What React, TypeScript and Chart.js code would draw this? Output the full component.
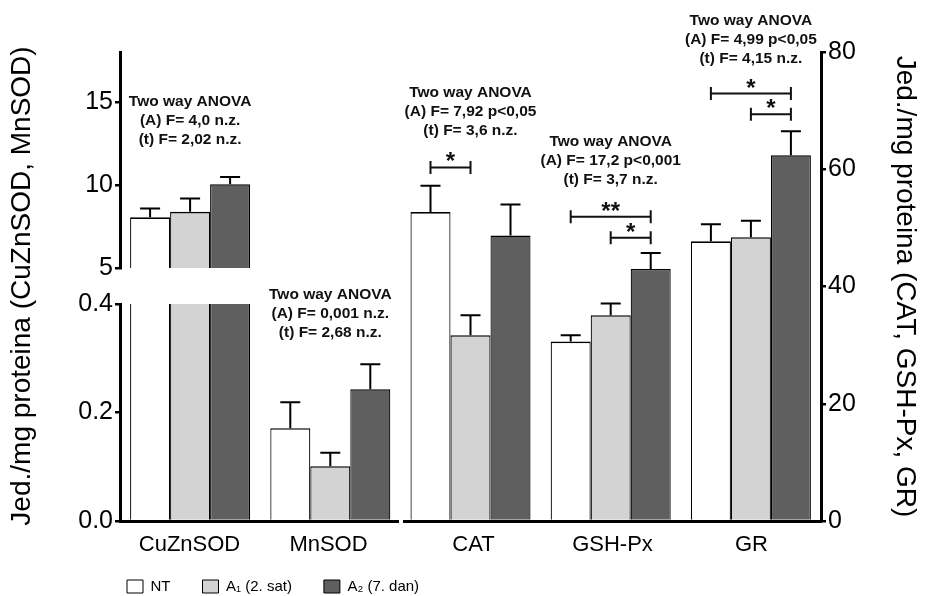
import React, { useEffect, useRef } from 'react';
import { Chart, registerables } from 'chart.js';

Chart.register(...registerables);

// ---------------- data ----------------
const categories = ['CuZnSOD', 'MnSOD', 'CAT', 'GSH-Px', 'GR'];
const leftCategories = categories.slice(0, 2);
const rightCategories = categories.slice(2);

const seriesLabels = ['NT', 'A\u2081 (2. sat)', 'A\u2082 (7. dan)'];
const ntValues = [8.05, 0.171, 52.7, 30.6, 47.7];
const a1Values = [8.38, 0.101, 31.7, 35.1, 48.4];
const a2Values = [10.04, 0.243, 48.7, 43.0, 62.4];
const ntErrors = [0.53, 0.048, 4.5, 1.1, 2.9];
const a1Errors = [0.8, 0.025, 3.4, 2.0, 2.8];
const a2Errors = [0.44, 0.046, 5.3, 2.7, 4.1];

const leftHighRange = [5, 18];
const leftLowRange = [0, 0.4];
const rightRange = [0, 80];
const leftHighTicks = [5, 10, 15];
const leftLowTicks = [0, 0.2, 0.4];
const rightTicks = [0, 20, 40, 60, 80];

const leftTitle = 'Jed./mg proteina (CuZnSOD, MnSOD)';
const rightTitle = 'Jed./mg proteina (CAT, GSH-Px, GR)';

const anovaTitle = 'Two way ANOVA';
const anovaA = ['(A) F= 4,0 n.z.', '(A) F= 0,001 n.z.', '(A) F= 7,92 p<0,05', '(A) F= 17,2 p<0,001', '(A) F= 4,99 p<0,05'];
const anovaT = ['(t) F= 2,02 n.z.', '(t) F= 2,68 n.z.', '(t) F= 3,6 n.z.', '(t) F= 3,7 n.z.', '(t) F= 4,15 n.z.'];
const anovaLevel = [15.0, 0.417, 73.1, 64.75, 85.4];

const sigCategory = ['CAT', 'GSH-Px', 'GSH-Px', 'GR', 'GR'];
const sigFrom = [0, 0, 1, 0, 1];
const sigTo = [1, 2, 2, 2, 2];
const sigLevel = [60.3, 51.9, 48.3, 72.9, 69.4];
const sigMark = ['*', '**', '*', '*', '*'];

// value axis used by each category (CuZnSOD: upper left segment, MnSOD: lower left, rest: right)
const categoryAxis = ['yH', 'yLo', 'yR', 'yR', 'yR'];

// ---------------- styles ----------------
const FONT = '"Liberation Sans", Arial, Helvetica, sans-serif';
const fills = ['#ffffff', '#d3d3d3', '#5f5f5f'];
const stackNames = ['NT', 'A1', 'A2'];
const barBorder = { top: 1.6, left: 1.2, right: 1.2, bottom: 0 };

Chart.defaults.font.family = FONT;
Chart.defaults.color = '#000';

const errorBarPlugin = {
  id: 'errorBars',
  afterDatasetsDraw(chart: any) {
    const ctx = chart.ctx;
    ctx.save();
    ctx.strokeStyle = '#000';
    ctx.lineWidth = 2;
    chart.data.datasets.forEach((ds: any, di: number) => {
      if (!ds.errors) return;
      const meta = chart.getDatasetMeta(di);
      const ys = chart.scales[meta.yAxisID];
      ds.errors.forEach((e: number | null, i: number) => {
        const v = ds.data[i];
        if (e == null || v == null) return;
        const x = meta.data[i].x;
        const y0 = ys.getPixelForValue(v);
        const y1 = ys.getPixelForValue(v + e);
        ctx.beginPath();
        ctx.moveTo(x, y0);
        ctx.lineTo(x, y1);
        ctx.moveTo(x - 10, y1);
        ctx.lineTo(x + 10, y1);
        ctx.stroke();
      });
    });
    ctx.restore();
  },
};

const notesPlugin = {
  id: 'notes',
  afterDatasetsDraw(chart: any) {
    const ctx = chart.ctx;
    const xs = chart.scales.x;
    ctx.save();
    ctx.fillStyle = '#111';
    ctx.textAlign = 'center';
    ctx.textBaseline = 'middle';
    ctx.font = 'bold 15.5px ' + FONT;
    categories.forEach((cat, c) => {
      const ys = chart.scales[categoryAxis[c]];
      const x = xs.getPixelForValue(c);
      const y = ys.getPixelForValue(anovaLevel[c]);
      [anovaTitle, anovaA[c], anovaT[c]].forEach((t, k) => ctx.fillText(t, x, y + k * 19));
    });

    const firstRight = chart.data.datasets.findIndex((d: any) => d.showInLegend);
    const yR = chart.scales.yR;
    ctx.strokeStyle = '#111';
    ctx.lineWidth = 2;
    ctx.font = 'bold 24px ' + FONT;
    ctx.textBaseline = 'alphabetic';
    sigCategory.forEach((cat, i) => {
      const ci = categories.indexOf(cat);
      const x1 = chart.getDatasetMeta(firstRight + sigFrom[i]).data[ci].x;
      const x2 = chart.getDatasetMeta(firstRight + sigTo[i]).data[ci].x;
      const y = yR.getPixelForValue(sigLevel[i]);
      ctx.beginPath();
      ctx.moveTo(x1, y);
      ctx.lineTo(x2, y);
      ctx.moveTo(x1, y - 6.5);
      ctx.lineTo(x1, y + 6.5);
      ctx.moveTo(x2, y - 6.5);
      ctx.lineTo(x2, y + 6.5);
      ctx.stroke();
      ctx.fillText(sigMark[i], (x1 + x2) / 2, y + 2);
    });
    ctx.restore();
  },
};

const legendOffsetPlugin = {
  id: 'legendOffset',
  afterLayout(chart: any) {
    const lg = chart.legend;
    if (lg) {
      lg.left -= 25;
      lg.right -= 25;
      lg.top -= 14;
      lg.bottom -= 14;
    }
  },
};

function buildConfig(): any {
  const seriesValues = [ntValues, a1Values, a2Values];
  const seriesErrors = [ntErrors, a1Errors, a2Errors];
  const common = (s: number) => ({
    label: seriesLabels[s],
    stack: stackNames[s],
    backgroundColor: fills[s],
    borderColor: '#000',
    borderWidth: barBorder,
    borderSkipped: 'start',
    categoryPercentage: 0.856,
    barPercentage: 1,
    clip: 0,
    xAxisID: 'x',
  });
  const pick = (arr: number[], keep: (i: number) => boolean) => arr.map((v, i) => (keep(i) ? v : null));
  const highDs = seriesValues.map((vals, s) => ({
    ...common(s),
    yAxisID: 'yH',
    data: pick(vals, (i) => categoryAxis[i] === 'yH'),
    errors: pick(seriesErrors[s], (i) => categoryAxis[i] === 'yH'),
  }));
  // lower segment of the broken left axis: CuZnSOD bars continue through it (clipped at its top)
  const lowDs = seriesValues.map((vals, s) => ({
    ...common(s),
    yAxisID: 'yLo',
    data: pick(vals, (i) => categoryAxis[i] !== 'yR'),
    errors: pick(seriesErrors[s], (i) => categoryAxis[i] === 'yLo'),
  }));
  const rightDs = seriesValues.map((vals, s) => ({
    ...common(s),
    yAxisID: 'yR',
    data: pick(vals, (i) => categoryAxis[i] === 'yR'),
    errors: pick(seriesErrors[s], (i) => categoryAxis[i] === 'yR'),
    showInLegend: true,
  }));

  const labelAxis = (labels: string[], weight: number, stackWeight: number) => ({
    type: 'category',
    axis: 'x',
    labels,
    position: 'bottom',
    stack: 'bottom',
    stackWeight,
    weight,
    offset: true,
    grid: { display: false, drawTicks: false },
    border: { display: true, color: '#000', width: 3 },
    ticks: { font: { size: 22 }, color: '#000', padding: 11, autoSkip: false, maxRotation: 0 },
    afterFit: (s: any) => { s.height = 40; },
  });
  const valueAxis = (range: number[], ticks: number[], fmt: (v: number) => string) => ({
    type: 'linear',
    axis: 'y',
    min: range[0],
    max: range[1],
    stacked: false,
    afterBuildTicks: (s: any) => { s.ticks = ticks.map((v) => ({ value: v })); },
    grid: { display: true, drawOnChartArea: false, drawTicks: true, tickLength: 5, color: '#000', lineWidth: 2.5 },
    border: { display: true, color: '#000', width: 3 },
    ticks: { font: { size: 25 }, color: '#000', padding: 2, callback: (v: number) => fmt(v) },
  });

  return {
    type: 'bar',
    data: { labels: categories, datasets: [...highDs, ...lowDs, ...rightDs] },
    options: {
      responsive: false,
      animation: false,
      devicePixelRatio: 1,
      events: [],
      layout: { padding: { top: 52, left: 0, right: 0, bottom: -22 } },
      plugins: {
        tooltip: { enabled: false },
        title: { display: false },
        legend: {
          position: 'bottom',
          align: 'start',
          fullSize: false,
          labels: {
            filter: (item: any, data: any) => !!data.datasets[item.datasetIndex].showInLegend,
            font: { size: 15 },
            color: '#000',
            boxWidth: 16,
            boxHeight: 13,
            padding: 32,
          },
        },
      },
      scales: {
        x: { type: 'category', axis: 'x', display: false, offset: true, weight: 0 },
        xL: labelAxis(leftCategories, 1, 278),
        xSp: {
          type: 'linear',
          axis: 'x',
          position: 'bottom',
          stack: 'bottom',
          stackWeight: 6,
          weight: 2,
          min: 0,
          max: 1,
          grid: { display: false, drawTicks: false },
          border: { display: false },
          ticks: { display: false },
          afterFit: (s: any) => { s.height = 40; },
        },
        xR: labelAxis(rightCategories, 3, 417),
        yH: {
          ...valueAxis(leftHighRange, leftHighTicks, (v) => String(v)),
          position: 'left',
          stack: 'left',
          stackWeight: 216,
          weight: 3,
          afterFit: (s: any) => { s.width = 120; },
        },
        ySp: {
          type: 'linear',
          axis: 'y',
          position: 'left',
          stack: 'left',
          stackWeight: 36,
          weight: 2,
          min: 0,
          max: 1,
          grid: { display: false, drawTicks: false },
          border: { display: false },
          ticks: { display: false },
          title: { display: true, text: leftTitle, font: { size: 28 }, color: '#000', padding: { top: 5, bottom: 0 } },
          afterFit: (s: any) => { s.width = 120; },
        },
        yLo: {
          ...valueAxis(leftLowRange, leftLowTicks, (v) => v.toFixed(1)),
          position: 'left',
          stack: 'left',
          stackWeight: 217,
          weight: 1,
          afterFit: (s: any) => { s.width = 120; },
        },
        yR: {
          ...valueAxis(rightRange, rightTicks, (v) => String(v)),
          position: 'right',
          title: { display: true, text: rightTitle, font: { size: 28 }, color: '#000', padding: { top: 9, bottom: 0 } },
          afterFit: (s: any) => { s.width = 110; },
        },
      },
    },
    plugins: [errorBarPlugin, notesPlugin, legendOffsetPlugin],
  };
}

export default function App() {
  const ref = useRef<HTMLCanvasElement>(null);
  useEffect(() => {
    if (!ref.current) return;
    const chart = new Chart(ref.current, buildConfig());
    return () => chart.destroy();
  }, []);
  return (
    <div style={{ position: 'fixed', left: 0, top: 0, width: 931, height: 596, background: '#fff' }}>
      <canvas ref={ref} width={931} height={596} style={{ display: 'block', width: 931, height: 596 }} />
    </div>
  );
}
